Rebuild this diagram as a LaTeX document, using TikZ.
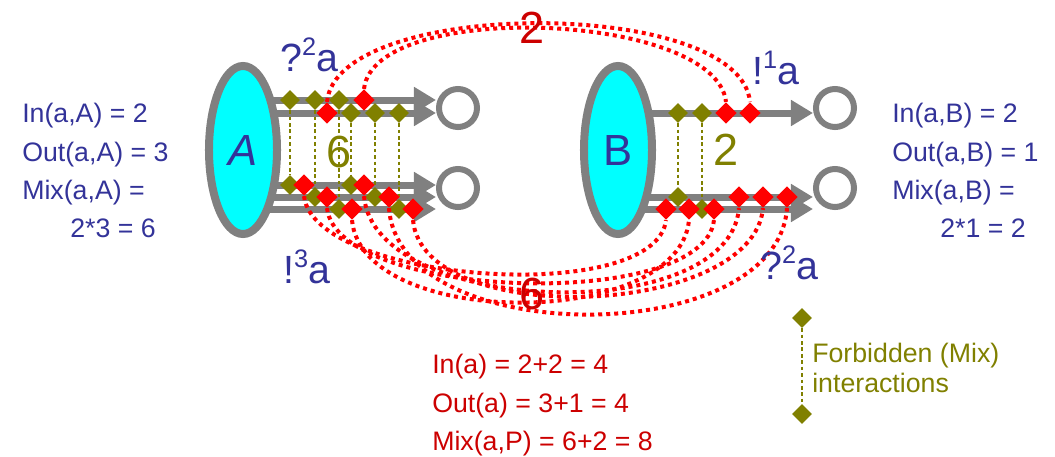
\documentclass[tikz,border=0pt]{standalone}
\usepackage{fontspec}
\setmainfont{Liberation Sans}
\usetikzlibrary{shapes.geometric,arrows.meta,backgrounds}

\definecolor{procblue}{HTML}{333399}
\definecolor{procfill}{HTML}{00FFFF}
\definecolor{olivemix}{HTML}{808000}
\definecolor{darkred}{HTML}{CC0000}
\definecolor{portgrey}{HTML}{808080}

\newcommand\supnum[1]{\raisebox{0.4em}{\fontsize{18}{18}\selectfont #1}}

\begin{document}
\begin{tikzpicture}[x=0.025cm,y=-0.025cm,
    port/.style={portgrey,line width=0.175cm,-{Triangle[length=0.55cm,width=0.62cm]}},
    proc/.style={ellipse,draw=portgrey,fill=procfill,line width=0.2cm,minimum width=1.7cm,
        minimum height=4.2cm,inner sep=0pt,text=procblue,font=\fontsize{31}{35}\selectfont},
    chan/.style={circle,draw=portgrey,line width=0.15cm,minimum size=0.95cm,inner sep=0pt},
    mix/.style={diamond,fill=olivemix,inner sep=0pt,minimum size=0.5cm},
    ok/.style={diamond,fill=red,inner sep=0pt,minimum size=0.54cm},
    mixline/.style={olivemix,line width=0.07cm,dash pattern=on 0.09cm off 0.07cm},
    okline/.style={red,line width=0.1cm,dash pattern=on 0.1cm off 0.1cm},
    txt/.style={anchor=base west,inner sep=0pt,font=\fontsize{19}{23}\selectfont},
    act/.style={anchor=base west,inner sep=0pt,text=procblue,font=\fontsize{28}{32}\selectfont},
    count/.style={font=\fontsize{32}{36}\selectfont},
]
\useasboundingbox (0,0) rectangle (1055,456);

% processes and channels
\node[proc] (A) at (243,150) {\textit{A}};
\node[proc] (B) at (618,150) {B};
\node[chan] (Ach1) at (458,108) {};
\node[chan] (Ach2) at (458,188) {};
\node[chan] (Bch1) at (835,108) {};
\node[chan] (Bch2) at (835,188) {};

\begin{scope}[on background layer]
\foreach \y in {100,113}
    \draw[port] (A |- 0,\y) -- (Ach1.west |- 0,\y);
\foreach \y in {185,197,209}
    \draw[port] (A |- 0,\y) -- (Ach2.west |- 0,\y);
\draw[port] (B |- 0,113) -- (Bch1.west |- 0,113);
\foreach \y in {197,209}
    \draw[port] (B |- 0,\y) -- (Bch2.west |- 0,\y);
\end{scope}

% forbidden (mix) pairs
\foreach \x/\ya/\yb [count=\i] in {290/100/185,315/100/197,339/100/209,
        351/113/185,375/113/197,399/113/209,678/113/197,702/113/209} {
    \node[mix] (mt\i) at (\x,\ya) {};
    \node[mix] (mb\i) at (\x,\yb) {};
    \draw[mixline] (mt\i) -- (mb\i);
}
\node[count,text=olivemix] (mixA) at (339,152) {6};
\node[count,text=olivemix] (mixB) at (726,150) {2};

% allowed interactions
\node[ok] (ra1) at (364,100) {};
\node[ok] (ra2) at (327,113) {};
\node[ok] (rb1) at (726,113) {};
\node[ok] (rb2) at (750,113) {};
\foreach \x/\y [count=\i] in {304/185,327/197,352/209,364/185,389/197,413/209}
    \node[ok] (la\i) at (\x,\y) {};
\foreach \x/\y [count=\i] in {666/209,689/209,714/209,739/197,763/197,787/197}
    \node[ok] (lb\i) at (\x,\y) {};

\draw[okline] (ra2.north) .. controls +(10,-105) and +(-10,-105) .. (rb2.north);
\draw[okline] (ra1.north) .. controls +(10,-90) and +(-10,-90) .. (rb1.north);
\foreach \a/\b/\d in {1/1/87,2/3/92,4/4/120,3/2/110,6/5/110,5/6/142}
    \draw[okline] (la\a.south) .. controls +(10,\d) and +(-10,\d) .. (lb\b.south);

\node[count,text=darkred] (topnum) at (532,28) {2};
\node[count,text=darkred] (botnum) at (532,294) {6};

% actions
\node[act] (inA) at (280,71) {?\supnum{2}a};
\node[act] (outA) at (283,283) {!\supnum{3}a};
\node[act] (outB) at (752,84) {!\supnum{1}a};
\node[act] (inB) at (760,279) {?\supnum{2}a};

% counts
\node[txt,text=procblue] (lA1) at (22,122) {In(a,A) = 2};
\node[txt,text=procblue] (lA2) at (22,161) {Out(a,A) = 3};
\node[txt,text=procblue] (lA3) at (22,199) {Mix(a,A) =};
\node[txt,text=procblue] (lA4) at (70,237) {2*3 = 6};
\node[txt,text=procblue] (lB1) at (892,122) {In(a,B) = 2};
\node[txt,text=procblue] (lB2) at (892,161) {Out(a,B) = 1};
\node[txt,text=procblue] (lB3) at (892,199) {Mix(a,B) =};
\node[txt,text=procblue] (lB4) at (940,237) {2*1 = 2};
\node[txt,text=darkred] (tot1) at (432,373) {In(a) = 2+2 = 4};
\node[txt,text=darkred] (tot2) at (432,412) {Out(a) = 3+1 = 4};
\node[txt,text=darkred] (tot3) at (432,450) {Mix(a,P) = 6+2 = 8};

% legend
\node[mix] (lg1) at (802,318) {};
\node[mix] (lg2) at (802,414) {};
\draw[mixline] (lg1) -- (lg2);
\node[txt,text=olivemix] (lgt1) at (812,362) {Forbidden (Mix)};
\node[txt,text=olivemix] (lgt2) at (812,392) {interactions};
\end{tikzpicture}
\end{document}
